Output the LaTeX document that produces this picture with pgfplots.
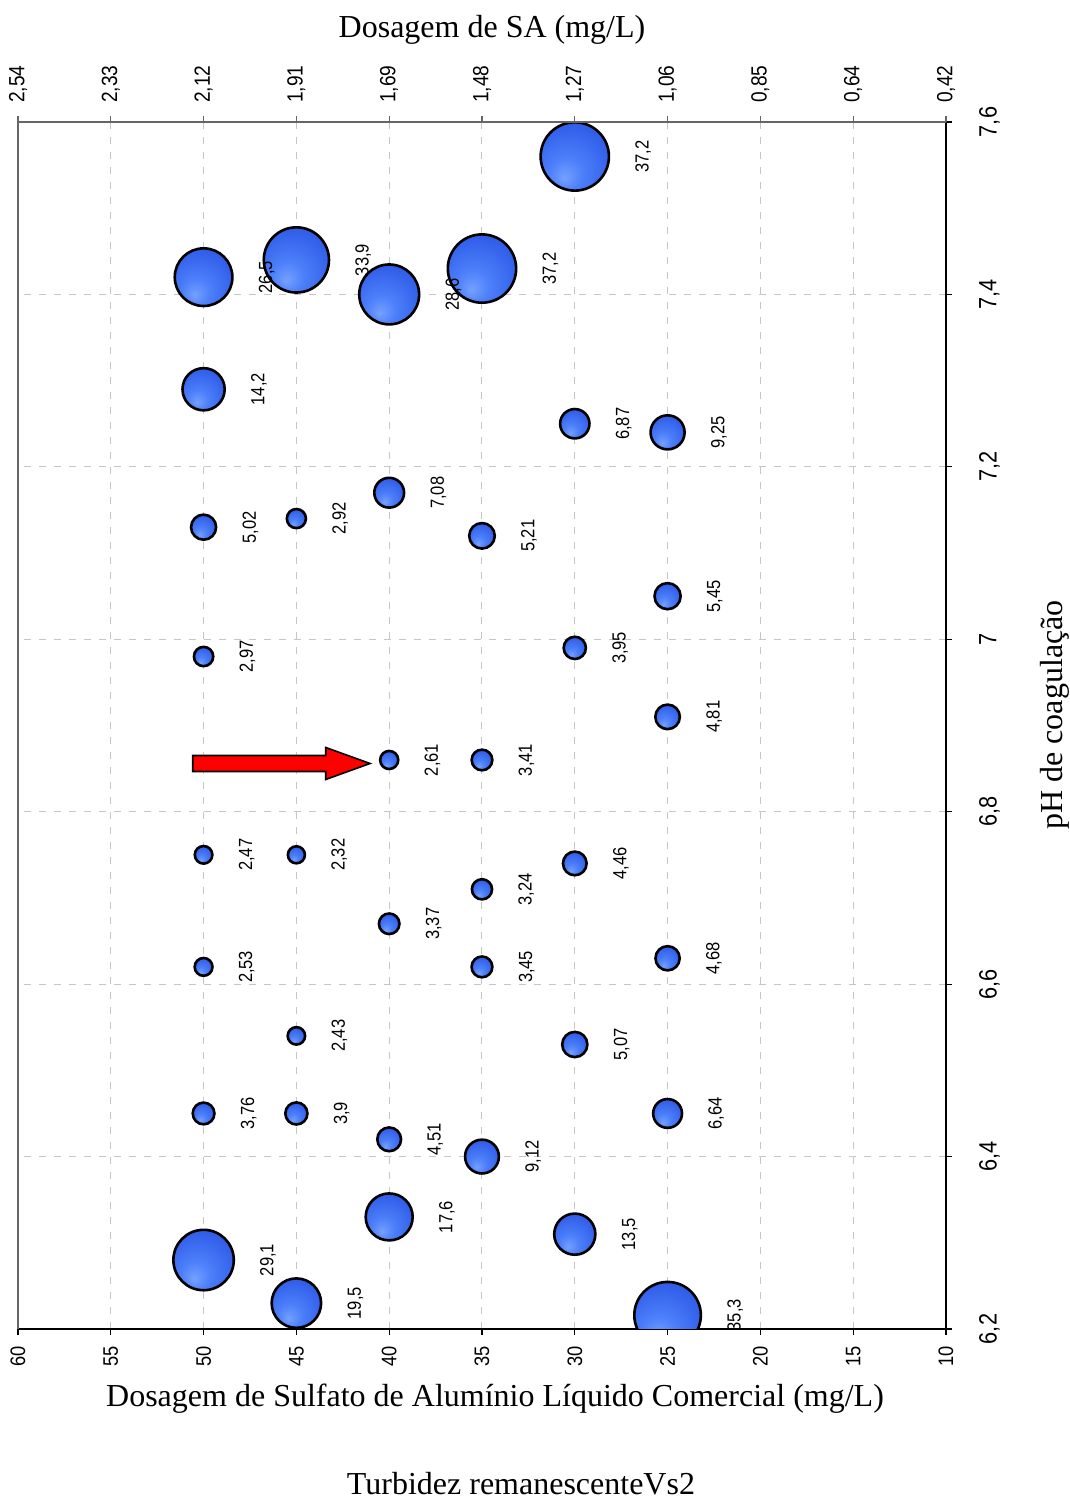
\documentclass[border=0pt]{standalone}
\usepackage{fontspec}
\setmainfont{Liberation Serif}
\newfontfamily\lsans[FakeStretch=0.87]{Liberation Sans}
\usepackage{pgfplots}
\usepackage{pgfplotstable}
\pgfplotsset{compat=1.18}

\pgfdeclareradialshading{bubshade}{\pgfpoint{-8bp}{-16bp}}{%
  rgb(0bp)=(0.46,0.63,1);
  rgb(12bp)=(0.30,0.50,0.98);
  rgb(30bp)=(0.20,0.38,0.92);
  rgb(50bp)=(0.14,0.28,0.80);
  rgb(66bp)=(0.09,0.18,0.60)}
\pgfdeclareplotmark{bub}{%
  \pgfpathcircle{\pgfpointorigin}{\pgfplotmarksize}%
  \pgfshadepath{bubshade}{0}%
  \pgfusepath{stroke}}
\pgfdeclareplotmark{nothing}{}

\pgfplotstableread{
x y t
50 6.28 29.1
50 6.45 3.76
50 6.62 2.53
50 6.75 2.47
50 6.98 2.97
50 7.13 5.02
50 7.29 14.2
50 7.42 26.5
45 6.23 19.5
45 6.45 3.9
45 6.54 2.43
45 6.75 2.32
45 7.14 2.92
45 7.44 33.9
40 6.33 17.6
40 6.42 4.51
40 6.67 3.37
40 6.86 2.61
40 7.17 7.08
40 7.40 28.6
35 6.40 9.12
35 6.62 3.45
35 6.71 3.24
35 6.86 3.41
35 7.12 5.21
35 7.43 37.2
30 6.31 13.5
30 6.53 5.07
30 6.74 4.46
30 6.99 3.95
30 7.25 6.87
30 7.56 37.2
25 6.216 35.3
25 6.45 6.64
25 6.63 4.68
25 6.91 4.81
25 7.05 5.45
25 7.24 9.25
}\bubdata

\begin{document}
\begin{tikzpicture}
\useasboundingbox (-9pt,-85pt) rectangle (526pt,664.5pt);
\begin{axis}[
  at={(0,0)}, anchor=south west,
  scale only axis, width=464pt, height=603.5pt,
  xmin=10, xmax=60, x dir=reverse,
  ymin=6.2, ymax=7.6,
  xtick={10,15,20,25,30,35,40,45,50,55,60},
  ytick={6.2,6.4,6.6,6.8,7.0,7.2,7.4,7.6},
  axis x line*=bottom, axis y line*=right,
  axis line style={black, line width=0.6pt},
  tick align=outside, major tick length=3pt,
  tick style={black, line width=0.6pt},
  grid=major,
  grid style={gray!45, line width=0.5pt, dash pattern=on 3.5pt off 4pt},
  /pgf/number format/use comma,
  /pgf/number format/assume math mode=true,
  x tick label style={font=\lsans\fontsize{10.5}{12}\selectfont, yshift=-2pt, rotate=90, anchor=east},
  y tick label style={font=\lsans\fontsize{12.5}{14}\selectfont, xshift=10pt, rotate=90, anchor=north},
  clip marker paths=true,
]
\addplot[
  scatter, only marks, mark=bub,
  scatter/use mapped color={draw=black, fill=black},
  mark options={line width=1.3pt},
  visualization depends on={2.8*sqrt(\thisrow{t}) \as \rad},
  scatter/@pre marker code/.append style={/tikz/mark size=\rad pt},
  point meta=\thisrow{t},
] table[x=x, y=y] {\bubdata};
\addplot[
  only marks, mark=nothing,
  visualization depends on={2.8*sqrt(\thisrow{t}) \as \radb},
  point meta=\thisrow{t},
  nodes near coords,
  every node near coord/.append style={font=\lsans\fontsize{9.5}{11}\selectfont, text=black,
     xshift=\radb pt+13pt, rotate=90, anchor=north, inner sep=0pt},
] table[x=x, y=y] {\bubdata};
\end{axis}
\begin{axis}[
  at={(0,0)}, anchor=south west,
  scale only axis, width=464pt, height=603.5pt,
  xmin=10, xmax=60, x dir=reverse,
  ymin=6.2, ymax=7.6,
  axis x line*=top, axis y line*=left,
  axis line style={black!60, line width=0.6pt},
  ytick=\empty,
  xtick={10,15,20,25,30,35,40,45,50,55,60},
  xticklabels={{0,42},{0,64},{0,85},{1,06},{1,27},{1,48},{1,69},{1,91},{2,12},{2,33},{2,54}},
  tick align=outside, major tick length=3pt,
  tick style={black!60, line width=0.6pt},
  x tick label style={font=\lsans\fontsize{11}{13}\selectfont, yshift=3pt, rotate=90, anchor=west},
]
\addplot[draw=none] coordinates {(30,7)};
\end{axis}
\draw[fill=red, line width=0.8pt, line join=miter]
  (87.35pt,278.75pt) -- (153.85pt,278.75pt) -- (153.85pt,274.75pt) -- (176pt,282.75pt)
  -- (153.85pt,290.75pt) -- (153.85pt,286.75pt) -- (87.35pt,286.75pt) -- cycle;
\node[font=\fontsize{16}{19}\selectfont, anchor=base, inner sep=0pt] at (238.5pt,-38.5pt)
  {Dosagem de Sulfato de Alumínio Líquido Comercial (mg/L)};
\node[font=\fontsize{16}{19}\selectfont, anchor=base, inner sep=0pt] at (251.5pt,-82.5pt)
  {Turbidez remanescenteVs2};
\node[font=\fontsize{16}{19}\selectfont, anchor=base, inner sep=0pt] at (237pt,645.5pt)
  {Dosagem de SA (mg/L)};
\node[font=\fontsize{16}{19}\selectfont, rotate=90, anchor=base, inner sep=0pt] at (522pt,307pt)
  {pH de coagulação};
\end{tikzpicture}
\end{document}
